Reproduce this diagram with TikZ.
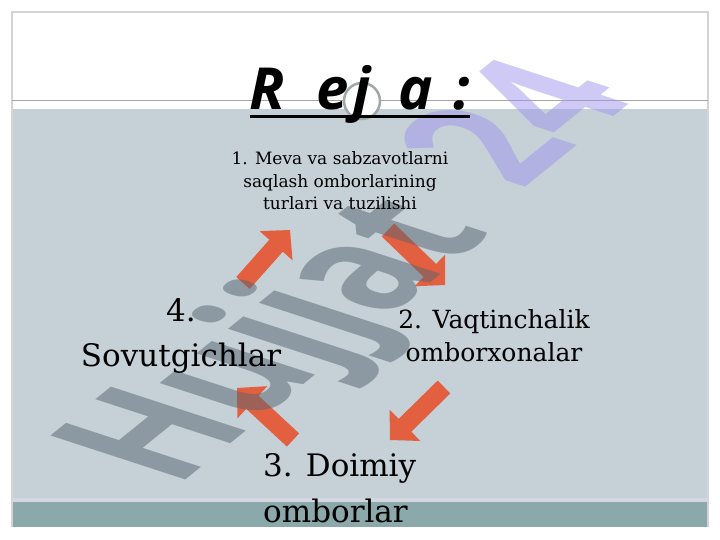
\documentclass[tikz,border=0pt]{standalone}
\usepackage{fontspec}
\setmainfont{DejaVu Serif}
\newfontfamily\titlefont{Open Sans}
\newfontfamily\wmfont{Open Sans}
\usetikzlibrary{calc}
\definecolor{bgblue}{RGB}{197,209,215}
\definecolor{bandteal}{RGB}{139,169,170}
\definecolor{bandlight}{RGB}{212,214,226}
\definecolor{framegrey}{RGB}{212,212,212}
\definecolor{linegrey}{RGB}{165,165,165}
\definecolor{ringgrey}{RGB}{160,168,168}
\definecolor{arrowred}{RGB}{226,96,64}
\definecolor{wmgrey}{RGB}{87,99,111}
\definecolor{wmlav}{RGB}{160,148,238}
\newcommand\myarrow[2]{%
  \coordinate (#1-b) at ($(#2)!21pt!(#1)$);
  \fill[arrowred] ($(#1)!9pt!90:(#2)$) -- ($(#1-b)!9pt!90:(#2)$) -- ($(#1-b)!22pt!90:(#2)$) -- (#2)
    -- ($(#1-b)!22pt!-90:(#2)$) -- ($(#1-b)!9pt!-90:(#2)$) -- ($(#1)!9pt!-90:(#2)$) -- cycle;}
\begin{document}
\begin{tikzpicture}[x=1pt,y=-1pt,
  txt/.style={inner sep=0pt, align=center, text=black},
  ttl/.style={inner sep=0pt, anchor=base, font=\titlefont\bfseries\itshape\fontsize{58}{58}\selectfont},
  wm/.style={cm={0.52,0.42,-0.95,0.31,(0,0)}, anchor=base west, inner sep=0pt, text opacity=0.5,
    font=\wmfont\bfseries\fontsize{199}{199}\selectfont}]
\useasboundingbox (0,0) rectangle (720,540);
\fill[white] (0,0) rectangle (720,540);
% background bands
\fill[bgblue] (12,109) rectangle (708,498);
\fill[bandlight] (12,498) rectangle (708,502);
\fill[bandteal] (12,502) rectangle (708,527);
\draw[framegrey, line width=2.5pt] (12,527) -- (12,12) -- (708,12) -- (708,527);
\draw[linegrey, line width=0.8pt] (12,100) -- (708,100);
% ornament
\node[circle, draw=ringgrey, fill=white, line width=2.5pt, minimum size=36pt, inner sep=0pt] (orn) at (362,101) {};
% arrows
\coordinate (a1) at (243,283); \coordinate (a1t) at (290,230);
\coordinate (a2) at (388,230); \coordinate (a2t) at (445,285);
\coordinate (a3) at (444,387); \coordinate (a3t) at (390,440);
\coordinate (a4) at (293,440); \coordinate (a4t) at (237,388);
\myarrow{a1}{a1t}
\myarrow{a2}{a2t}
\myarrow{a3}{a3t}
\myarrow{a4}{a4t}
% watermark
\begin{scope}[shift={(176,488)}]
\node[wm] (wm1) at (0,0) {\textcolor{wmgrey}{Hujjat}};
\end{scope}
\begin{scope}[shift={(521,191)}]
\node[wm] (wm2) at (0,0) {\textcolor{wmlav}{24}};
\end{scope}
% title
\node[ttl] (tR) at (267,110) {R};
\node[ttl] (te) at (333,110) {e};
\node[ttl] (tj) at (362,110) {j};
\node[ttl] (ta) at (416,110) {a};
\node[ttl] (tc) at (462,110) {:};
\coordinate (ul1) at (250,117);
\coordinate (ul2) at (470,117);
\draw[black, line width=3pt] (ul1) -- (ul2);
% items
\node[txt, font=\fontsize{17}{22.5}\selectfont] (i1) at (340,181) {1. Meva va sabzavotlarni\\saqlash omborlarining\\turlari va tuzilishi};
\node[txt, font=\fontsize{25}{33}\selectfont] (i2) at (494,336) {2. Vaqtinchalik\\omborxonalar};
\node[txt, font=\fontsize{31}{45}\selectfont] (i4) at (181,336) {4.\\Sovutgichlar};
\node[txt, align=left, anchor=north west, font=\fontsize{31}{46}\selectfont] (i3) at (263,453) {3. Doimiy\\omborlar};
\end{tikzpicture}
\end{document}
